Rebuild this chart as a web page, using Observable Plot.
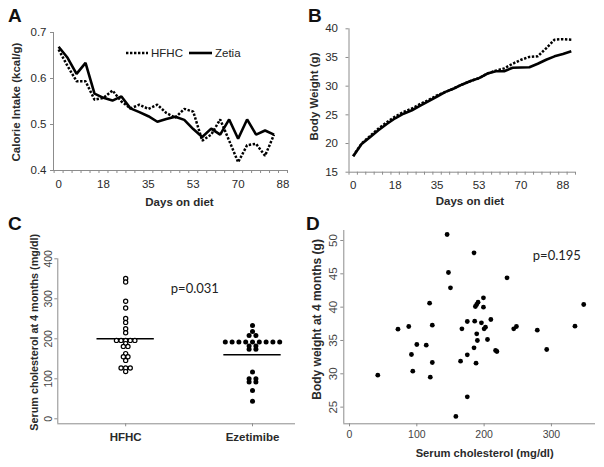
<!DOCTYPE html>
<html>
<head>
<meta charset="utf-8">
<script src="https://cdn.jsdelivr.net/npm/d3@7"></script>
<script src="https://cdn.jsdelivr.net/npm/@observablehq/plot@0.6"></script>
<style>
  html, body { margin: 0; padding: 0; background: #fff; }
  #fig { position: relative; width: 604px; height: 467px; font-family: "Liberation Sans", Arial, sans-serif; overflow: hidden; }
  .panel { position: absolute; }
  #overlay { position: absolute; left: 0; top: 0; pointer-events: none; }
</style>
</head>
<body>
<div id="fig">
  <div class="panel" id="pA" style="left:0;top:0"></div>
  <div class="panel" id="pB" style="left:300px;top:0"></div>
  <div class="panel" id="pC" style="left:0;top:225px"></div>
  <div class="panel" id="pD" style="left:300px;top:225px"></div>
</div>
<script>
// ---------- Panel A: calorie intake ----------
const daysA = [0, 3.52, 7.04, 10.56, 14.08, 17.6, 21.12, 24.64, 28.16, 31.68, 35.2, 38.72, 42.24, 45.76, 49.28, 52.8, 56.32, 59.84, 63.36, 66.88, 70.4, 73.92, 77.44, 80.96, 84.48];
const intakeHFHC = [0.663, 0.627, 0.594, 0.594, 0.554, 0.558, 0.574, 0.550, 0.535, 0.543, 0.534, 0.543, 0.525, 0.515, 0.534, 0.528, 0.465, 0.478, 0.511, 0.465, 0.418, 0.455, 0.458, 0.432, 0.478];
const intakeZetia = [0.669, 0.645, 0.610, 0.634, 0.567, 0.558, 0.552, 0.561, 0.535, 0.527, 0.518, 0.506, 0.512, 0.517, 0.510, 0.490, 0.473, 0.491, 0.478, 0.511, 0.469, 0.511, 0.478, 0.487, 0.478];
const intakeTicks = [0.4, 0.5, 0.6, 0.7];

// ---------- Panel B: body weight ----------
const daysB = [0, 3.52, 7.04, 10.56, 14.08, 17.6, 21.12, 24.64, 28.16, 31.68, 35.2, 38.72, 42.24, 45.76, 49.28, 52.8, 56.32, 59.84, 63.36, 66.88, 70.4, 73.92, 77.44, 80.96, 84.48, 88, 91.52];
const weightHFHC = [17.8, 20.0, 21.3, 22.6, 23.7, 24.7, 25.5, 26.1, 26.9, 27.6, 28.4, 29.0, 29.6, 30.3, 30.9, 31.4, 32.2, 32.7, 33.1, 33.9, 34.6, 35.1, 35.2, 36.6, 38.1, 38.2, 38.1];
const weightZetia = [17.8, 19.9, 21.1, 22.3, 23.4, 24.4, 25.2, 25.8, 26.6, 27.4, 28.2, 29.0, 29.6, 30.3, 30.9, 31.4, 32.2, 32.6, 32.6, 33.2, 33.25, 33.3, 33.9, 34.6, 35.2, 35.6, 36.1];
const weightTicks = [15, 20, 25, 30, 35, 40];

// shared day axis (Excel category axis, label every 5th category)
const dayLabelTicks = [0, 17.6, 35.2, 52.8, 70.4, 88];

// ---------- Panel C: serum cholesterol by group ----------
const groups = ["HFHC", "Ezetimibe"];
const cholHFHC = [351, 342, 294, 277, 251, 241, 225, 215, 196, 196, 196, 196, 196, 188, 181, 181, 163, 155, 155, 146, 127, 127, 127, 118];
const cholEzetimibe = [233, 218, 208, 208, 192, 192, 192, 192, 192, 192, 192, 192, 192, 182, 182, 174, 174, 117, 100, 100, 92, 92, 71, 44];
const cholMeans = [200, 160];
const cholTicks = [0, 100, 200, 300, 400];

// ---------- Panel D: body weight vs cholesterol ----------
const serumChol = [42, 72, 88, 92, 94, 100, 114, 119, 120, 123, 123, 145, 147, 150, 158, 165, 167, 175, 175, 175, 185, 186, 185, 187, 189, 189, 190, 188, 191, 199, 196, 199, 200, 202, 205, 210, 217, 219, 234, 244, 248, 279, 293, 335, 348];
const bodyWeight4m = [29.8, 36.7, 37.1, 32.9, 30.4, 34.4, 34.3, 40.6, 29.5, 37.3, 31.7, 50.9, 45.2, 42.9, 23.6, 31.9, 36.75, 37.85, 32.85, 26.55, 48.15, 37.9, 33.9, 40.1, 40.4, 36.0, 35.0, 31.6, 40.75, 41.4, 37.65, 40.0, 36.75, 37.0, 35.15, 38.15, 33.5, 33.35, 44.4, 36.75, 37.1, 36.55, 33.65, 37.15, 40.4];
const cholTicksD = [0, 100, 200, 300];
const weightTicksD = [25, 30, 35, 40, 45, 50];

const pValues = ["p=0.031", "p=0.195"];

// ---------- styling ----------
const FONT = '"Liberation Sans", Arial, sans-serif';
const axisGray = "#8c8c8c";
const baseStyle = {background: "transparent", fontFamily: FONT, fontSize: "11px", color: "#2a2a2a", overflow: "visible"};
const dotted = "2.4,1.6";
const dottedLine = {stroke: "black", strokeWidth: 2.5, strokeDasharray: dotted, strokeLinecap: "butt", strokeLinejoin: "miter"};
const solidLine = {stroke: "black", strokeWidth: 2.6, strokeLinecap: "butt", strokeLinejoin: "miter"};

// ---------- A ----------
const xDomA = [-2, 89.76];
const yDomA = [0.4, 0.7];
const boundsA = d3.range(27).map(i => (i - 0.5) * 3.52);
const plotA = Plot.plot({
  width: 300, height: 215,
  marginLeft: 53, marginRight: 13, marginTop: 32, marginBottom: 45,
  x: {domain: xDomA},
  y: {domain: yDomA},
  style: baseStyle,
  marks: [
    Plot.ruleY([yDomA[0]], {stroke: axisGray}),
    Plot.ruleX([xDomA[0]], {stroke: axisGray}),
    Plot.axisY({ticks: intakeTicks, tickSize: 3, tickFormat: () => "", color: axisGray, label: null}),
    Plot.axisY({ticks: intakeTicks, tickSize: 0, tickPadding: 7, tickFormat: d3.format(".1f"), label: null, fontSize: 11.5}),
    Plot.axisX({ticks: boundsA, tickSize: 3, tickFormat: () => "", color: axisGray, label: null}),
    Plot.axisX({ticks: dayLabelTicks, tickSize: 0, tickPadding: 9, tickFormat: d3.format(".0f"), label: null, fontSize: 11.5}),
    Plot.lineY(intakeHFHC, {x: daysA, ...dottedLine}),
    Plot.lineY(intakeZetia, {x: daysA, ...solidLine}),
    Plot.text(["Days on diet"], {text: d => d, frameAnchor: "bottom", dx: 9, dy: 27, lineAnchor: "top", fontWeight: "bold", fontSize: 11.5}),
    Plot.text(["Calorie Intake (kcal/g)"], {text: d => d, frameAnchor: "left", rotate: -90, dx: -37.5, dy: 0.5, textAnchor: "middle", lineAnchor: "middle", fontWeight: "bold", fontSize: 11.5})
  ]
});
document.getElementById("pA").appendChild(plotA);

// ---------- B ----------
const xDomB = [-1.76, 93.28];
const yDomB = [15, 40];
const boundsB = d3.range(28).map(i => (i - 0.5) * 3.52);
const plotB = Plot.plot({
  width: 304, height: 215,
  marginLeft: 48.5, marginRight: 29, marginTop: 28.3, marginBottom: 43.3,
  x: {domain: xDomB},
  y: {domain: yDomB},
  style: baseStyle,
  marks: [
    Plot.ruleY([yDomB[0]], {stroke: axisGray}),
    Plot.ruleX([xDomB[0]], {stroke: axisGray}),
    Plot.axisY({ticks: weightTicks, tickSize: 3, tickFormat: () => "", color: axisGray, label: null}),
    Plot.axisY({ticks: weightTicks, tickSize: 0, tickPadding: 11, label: null, fontSize: 11.5}),
    Plot.axisX({ticks: boundsB, tickSize: 3, tickFormat: () => "", color: axisGray, label: null}),
    Plot.axisX({ticks: dayLabelTicks, tickSize: 0, tickPadding: 8.3, tickFormat: d3.format(".0f"), label: null, fontSize: 11.5}),
    Plot.lineY(weightHFHC, {x: daysB, ...dottedLine}),
    Plot.lineY(weightZetia, {x: daysB, ...solidLine}),
    Plot.text(["Days on diet"], {text: d => d, frameAnchor: "bottom", dx: 7.7, dy: 25, lineAnchor: "top", fontWeight: "bold", fontSize: 11.5}),
    Plot.text(["Body Weight (g)"], {text: d => d, frameAnchor: "left", rotate: -90, dx: -34.5, dy: -4, textAnchor: "middle", lineAnchor: "middle", fontWeight: "bold", fontSize: 11.5})
  ]
});
document.getElementById("pB").appendChild(plotB);

// ---------- C ----------
const xDomC = [0.465, 2.339];
const yDomC = [-12.5, 400];
const wC = 300, mlC = 57.3, mrC = 5;
const pxPerUnitC = (wC - mlC - mrC) / (xDomC[1] - xDomC[0]);
const dotGapPx = [4.6, 6.8];
function swarm(values, gi) {
  const counts = d3.rollup(values, v => v.length, d => d);
  const seen = new Map();
  return values.map(v => {
    const n = counts.get(v);
    const k = seen.get(v) || 0;
    seen.set(v, k + 1);
    const off = (k - (n - 1) / 2) * dotGapPx[gi] / pxPerUnitC;
    return {x: gi + 1 + off, v};
  });
}
const swarmH = swarm(cholHFHC, 0);
const swarmE = swarm(cholEzetimibe, 1);
const meanHalf = 0.226;
const plotC = Plot.plot({
  width: wC, height: 242,
  marginLeft: mlC, marginRight: mrC, marginTop: 33.3, marginBottom: 43.7,
  x: {domain: xDomC},
  y: {domain: yDomC},
  style: baseStyle,
  marks: [
    Plot.ruleY([yDomC[0]], {stroke: axisGray}),
    Plot.ruleX([xDomC[0]], {stroke: axisGray}),
    Plot.axisY({ticks: cholTicks, tickSize: 3, tickFormat: () => "", color: axisGray, label: null}),
    Plot.text(cholTicks, {y: d => d, text: d => String(d), frameAnchor: "left", dx: -9, rotate: -90, textAnchor: "middle", lineAnchor: "middle", fontSize: 10.5, fill: "#444"}),
    Plot.axisX({ticks: [1, 2], tickSize: 3, tickFormat: () => "", color: axisGray, label: null}),
    Plot.axisX({ticks: [1, 2], tickSize: 0, tickPadding: 9, tickFormat: d => groups[d - 1], label: null, fontWeight: "bold", fontSize: 11.5}),
    Plot.ruleY(cholMeans, {y: d => d, x1: (d, i) => i + 1 - meanHalf, x2: (d, i) => i + 1 + meanHalf, stroke: "black", strokeWidth: 1.5}),
    Plot.dot(swarmH, {x: "x", y: "v", r: 2.1, fill: "white", stroke: "black", strokeWidth: 1.2}),
    Plot.dot(swarmE, {x: "x", y: "v", r: 2.5, fill: "black", stroke: "none"}),
    Plot.text([pValues[0]], {text: d => d, frameAnchor: "top-left", dx: 113, dy: 30, textAnchor: "start", lineAnchor: "middle", fontFamily: "Lato, 'Open Sans', sans-serif", fontSize: 13, fill: "#222"}),
    Plot.text(["Serum cholesterol at 4 months (mg/dl)"], {text: d => d, frameAnchor: "left", rotate: -90, dx: -23.3, dy: -9, textAnchor: "middle", lineAnchor: "middle", fontWeight: "bold", fontSize: 10.8})
  ]
});
document.getElementById("pC").appendChild(plotC);

// ---------- D ----------
const xDomD = [-8.5, 365.5];
const yDomD = [22.5, 51.5];
const plotD = Plot.plot({
  width: 304, height: 242,
  marginLeft: 43.3, marginRight: 9, marginTop: 5, marginBottom: 43.7,
  x: {domain: xDomD},
  y: {domain: yDomD},
  style: baseStyle,
  marks: [
    Plot.ruleY([yDomD[0]], {stroke: axisGray}),
    Plot.ruleX([xDomD[0]], {stroke: axisGray}),
    Plot.axisY({ticks: weightTicksD, tickSize: 3, tickFormat: () => "", color: axisGray, label: null}),
    Plot.text(weightTicksD, {y: d => d, text: d => String(d), frameAnchor: "left", dx: -10, rotate: -90, textAnchor: "middle", lineAnchor: "middle", fontSize: 11.5, fill: "#444"}),
    Plot.axisX({ticks: cholTicksD, tickSize: 3, tickFormat: () => "", color: axisGray, label: null}),
    Plot.axisX({ticks: cholTicksD, tickSize: 0, tickPadding: 6.7, label: null, fontSize: 10.5, fill: "#444"}),
    Plot.dot(serumChol, {x: serumChol, y: bodyWeight4m, r: 2.4, fill: "black", stroke: "none"}),
    Plot.text([pValues[1]], {text: d => d, frameAnchor: "top-left", dx: 189, dy: 25, textAnchor: "start", lineAnchor: "middle", fontFamily: "Lato, 'Open Sans', sans-serif", fontSize: 13, fill: "#222"}),
    Plot.text(["Serum cholesterol (mg/dl)"], {text: d => d, frameAnchor: "bottom", dx: 15, dy: 25, lineAnchor: "top", fontWeight: "bold", fontSize: 11.2}),
    Plot.text(["Body weight at 4 months (g)"], {text: d => d, frameAnchor: "left", rotate: -90, dx: -26.3, dy: -7.7, textAnchor: "middle", lineAnchor: "middle", fontWeight: "bold", fontSize: 12})
  ]
});
document.getElementById("pD").appendChild(plotD);

// ---------- overlay: panel letters and legend for A ----------
const panelLetters = ["A", "B", "C", "D"];
const letterPos = [[8, 21.7], [308, 21.7], [8, 230], [306, 230]];
const ov = d3.select("#fig").append("svg").attr("id", "overlay").attr("width", 604).attr("height", 467);
ov.selectAll("text.letter").data(panelLetters).join("text")
  .attr("class", "letter")
  .attr("x", (d, i) => letterPos[i][0]).attr("y", (d, i) => letterPos[i][1])
  .attr("font-family", FONT).attr("font-weight", "bold").attr("font-size", 19).attr("fill", "#111")
  .text(d => d);
const legendNames = ["HFHC", "Zetia"];
const leg = ov.append("g").attr("font-family", FONT).attr("font-size", 11.5).attr("fill", "#222");
leg.append("line").attr("x1", 126).attr("x2", 148).attr("y1", 53).attr("y2", 53).attr("stroke", "black").attr("stroke-width", 2.5).attr("stroke-dasharray", dotted);
leg.append("text").attr("x", 151).attr("y", 57.3).text(legendNames[0]);
leg.append("line").attr("x1", 189).attr("x2", 212).attr("y1", 53).attr("y2", 53).attr("stroke", "black").attr("stroke-width", 2.6);
leg.append("text").attr("x", 215).attr("y", 57.3).text(legendNames[1]);
</script>
</body>
</html>
